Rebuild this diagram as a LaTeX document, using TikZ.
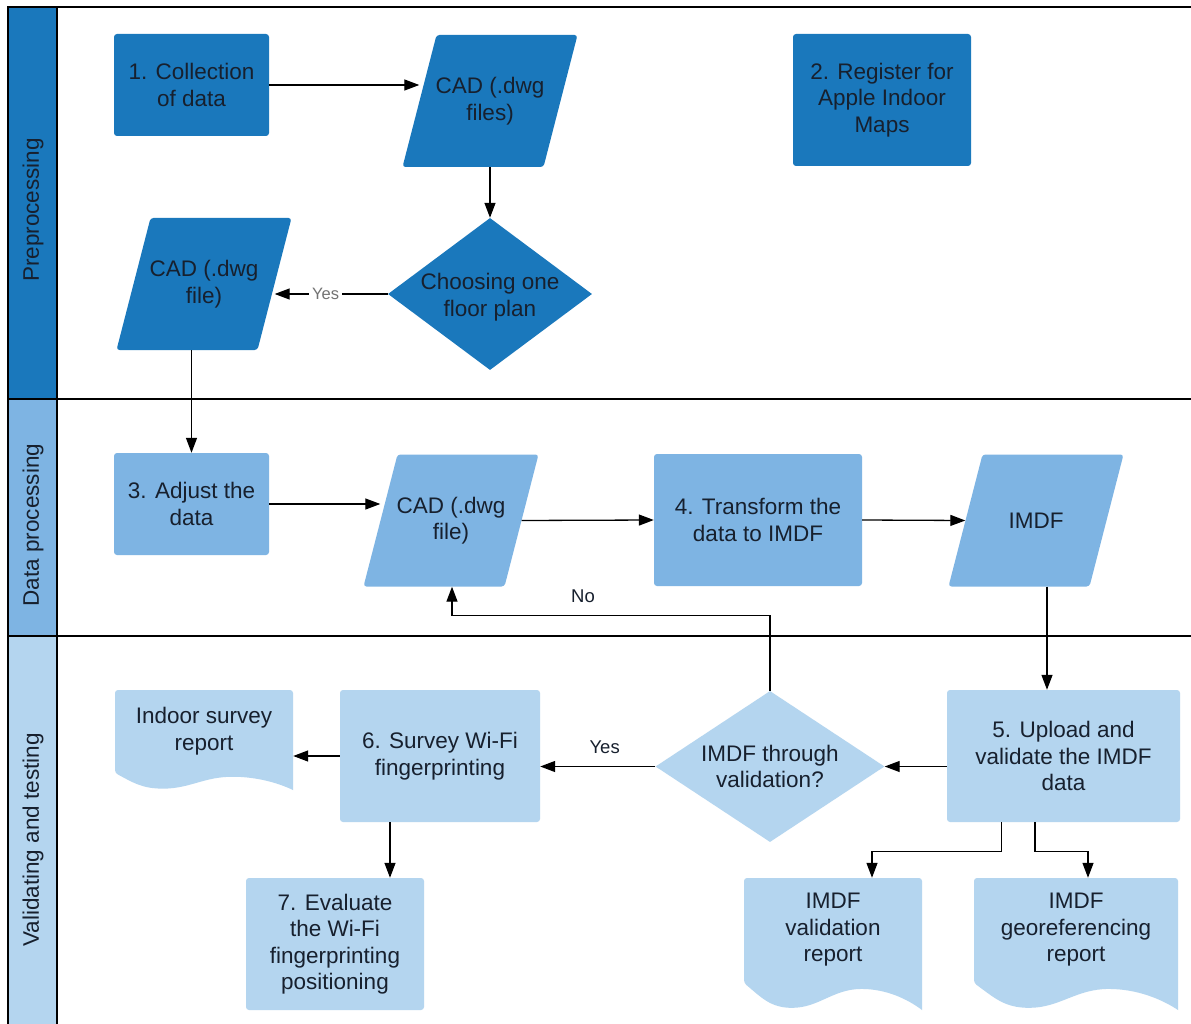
\documentclass[tikz,border=0pt]{standalone}
\usepackage{fontspec}
\setmainfont{Liberation Sans}
\usetikzlibrary{shapes.geometric,arrows.meta}

\definecolor{dkblue}{HTML}{1A78BC}
\definecolor{mdblue}{HTML}{7EB4E3}
\definecolor{ltblue}{HTML}{B4D5EF}
\definecolor{ink}{HTML}{17202E}

% Document symbol with a wavy lower edge:
% #1,#2 = left/top, #3,#4 = right/bottom, #5 = rise of the wave, #6 = fill colour
\newcommand\docshape[6]{%
  \pgfmathsetmacro\dw{#3-#1}%
  \fill[#6] (#1,{#4-#5})
    .. controls ({#1+0.10*\dw},{#4-0.45*#5}) and ({#1+0.15*\dw},{#4-0.08*#5}) .. ({#1+0.27*\dw},{#4-0.08*#5})
    .. controls ({#1+0.42*\dw},{#4-0.08*#5}) and ({#1+0.50*\dw},{#4-0.78*#5}) .. ({#1+0.66*\dw},{#4-0.78*#5})
    .. controls ({#1+0.80*\dw},{#4-0.78*#5}) and ({#1+0.92*\dw},{#4-0.40*#5}) .. (#3,#4)
    [rounded corners=3pt] -- (#3,#2) -- (#1,#2) -- cycle;}

% Data (parallelogram) symbol: #1 = name, #2,#3 = centre, #4 = fill colour, #5 = text
% the named node spans the middle of the slanted sides, so its west/east
% anchors lie on the slanted edges
\newcommand\ionode[5]{%
  \fill[#4, rounded corners=3pt] ({#2-87.5},{#3+66}) -- ({#2-53.5},{#3-66})
    -- ({#2+87.5},{#3-66}) -- ({#2+53.5},{#3+66}) -- cycle;
  \node[iobox] (#1) at (#2,#3) {#5};}

\begin{document}
\begin{tikzpicture}[x=1pt,y=-1pt,
  every node/.style={font=\fontsize{22.5}{26.5}\selectfont, text=ink},
  stepbox/.style={rectangle, rounded corners=3pt, draw=none, align=center, inner sep=0pt},
  iobox/.style={rectangle, minimum width=141pt, minimum height=132pt, inner sep=0pt, align=center},
  decision/.style={diamond, inner sep=0pt},
  docbox/.style={rectangle, inner sep=0pt},
  flow/.style={draw=black, line width=1.3pt, -{Triangle[length=15pt,width=11pt]}},
  lane/.style={line width=2pt, draw=black},
  small/.style={font=\fontsize{18.5}{22}\selectfont}
]
\useasboundingbox (0,0) rectangle (1191,1024);
\fill[white] (0,0) rectangle (1191,1024);

% swimlane header column
\fill[dkblue] (8,7) rectangle (57,399);
\fill[mdblue] (8,399) rectangle (57,636);
\fill[ltblue] (8,636) rectangle (57,1030);
\draw[lane] (7,7) -- (1195,7);
\draw[lane] (8,7) -- (8,1030);
\draw[lane] (57,7) -- (57,1030);
\draw[lane] (8,399) -- (1195,399);
\draw[lane] (8,636) -- (1195,636);

\node[rotate=90] (lanepre) at (33,210) {Preprocessing};
\node[rotate=90] (laneproc) at (33,525) {Data processing};
\node[rotate=90] (laneval) at (33,840) {Validating and testing};

% preprocessing
\node[stepbox, fill=dkblue, minimum width=155pt, minimum height=102pt] (coll) at (191.5,85) {1. Collection\\of data};
\ionode{cadA}{490}{101}{dkblue}{CAD (.dwg\\files)}
\node[stepbox, fill=dkblue, minimum width=178pt, minimum height=132pt] (register) at (882,100) {2. Register for\\Apple Indoor\\Maps};
\node[decision, fill=dkblue, minimum width=204pt, minimum height=152pt, label={[align=center, yshift=-3pt]center:{Choosing one\\floor plan}}] (choose) at (490,294) {};
\ionode{cadB}{204}{284}{dkblue}{CAD (.dwg\\file)}

% data processing
\node[stepbox, fill=mdblue, minimum width=155pt, minimum height=102pt] (adjust) at (191.5,504) {3. Adjust the\\data};
\ionode{cadC}{451}{520.5}{mdblue}{CAD (.dwg\\file)}
\node[stepbox, fill=mdblue, minimum width=208pt, minimum height=132pt] (transform) at (758,520) {4. Transform the\\data to IMDF};
\ionode{imdf}{1036}{520.5}{mdblue}{IMDF}

% validating and testing
\node[stepbox, fill=ltblue, minimum width=233pt, minimum height=132pt] (upload) at (1063.5,756) {5. Upload and\\validate the IMDF\\data};
\node[decision, fill=ltblue, minimum width=229pt, minimum height=151pt, label={[align=center]center:{IMDF through\\validation?}}] (decide) at (770,766.5) {};
\node[stepbox, fill=ltblue, minimum width=200pt, minimum height=132pt] (survey) at (440,756) {6. Survey Wi-Fi\\fingerprinting};
\node[stepbox, fill=ltblue, minimum width=178pt, minimum height=132pt] (evaluate) at (335,944) {7. Evaluate\\the Wi-Fi\\fingerprinting\\positioning};

\docshape{115}{690}{293}{790}{17}{ltblue}
\node[docbox, minimum width=178pt, minimum height=100pt, label={[align=center, yshift=9pt]center:{Indoor survey\\report}}] (indoor) at (204,740) {};
\docshape{744}{878}{922}{1010}{27}{ltblue}
\node[docbox, minimum width=178pt, minimum height=132pt, label={[align=center, yshift=14pt]center:{IMDF\\validation\\report}}] (valrep) at (833,944) {};
\docshape{974}{878}{1178}{1010}{27}{ltblue}
\node[docbox, minimum width=204pt, minimum height=132pt, label={[align=center, yshift=14pt]center:{IMDF\\georeferencing\\report}}] (georep) at (1076,944) {};

% connectors
\draw[flow] (coll.east) -- (coll.east -| cadA.west);
\draw[flow] (cadA.south) -- (choose.north);
\draw[flow] (choose.west) -- node[pos=0.55, fill=white, text=black!55, font=\fontsize{16.5}{19}\selectfont, inner xsep=3pt, inner ysep=1pt] (yesA) {Yes} (choose.west -| cadB.east);
\draw[flow] (cadB.south -| adjust.north) -- (adjust.north);
\draw[flow] (adjust.east) -- (adjust.east -| cadC.west);
\draw[flow] (cadC.east) -- (transform.west);
\draw[flow] (transform.east) -- (imdf.west);
\draw[flow] ([xshift=11pt]imdf.south) -- ([xshift=11pt]imdf.south |- upload.north);
\draw[flow] (decide.east -| upload.west) -- (decide.east);
\draw[flow] (decide.west) -- node[pos=0.44, yshift=19pt, small] (yesB) {Yes} (decide.west -| survey.east);
\draw[flow] (survey.west) -- (survey.west -| indoor.east);
\draw[flow] ([xshift=-50pt]survey.south) -- ([xshift=-50pt]survey.south |- evaluate.north);
\draw[flow] (decide.north) -- ++(0,-75) -| ([xshift=1pt]cadC.south);
\node[small] (nolbl) at (583,596) {No};
\draw[flow] ([xshift=-62pt]upload.south) -- ++(0,29) -| ([xshift=39pt]valrep.north);
\draw[flow] ([xshift=-28.5pt]upload.south) -- ++(0,29) -| ([xshift=12pt]georep.north);
\end{tikzpicture}
\end{document}
